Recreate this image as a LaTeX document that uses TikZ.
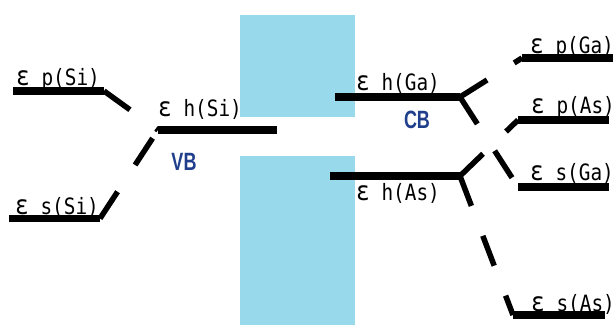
\documentclass[tikz,border=0pt]{standalone}
\usepackage{fontspec}
\newfontfamily\lblfont{DejaVu Sans Mono}[FakeStretch=0.86]
\newfontfamily\bandfont{Liberation Sans}[FakeStretch=0.72]
\newcommand\myeps{{\fontsize{26.5}{24}\selectfont ε}}
\definecolor{bandblue}{HTML}{99D9EC}
\definecolor{labelblue}{HTML}{1F3E8C}
\tikzset{
  level/.style={line width=7.5pt},
  link/.style={line width=5.5pt, dash pattern=on 32pt off 32pt},
  lbl/.style={inner sep=0pt, anchor=base west, font=\lblfont\fontsize{22.5}{24}\selectfont},
  bandlbl/.style={inner sep=0pt, text=labelblue, font=\bandfont\bfseries\fontsize{25}{28}\selectfont},
  gap/.style={fill=bandblue, draw=none}
}
\begin{document}
\begin{tikzpicture}[x=1pt,y=-1pt]
\useasboundingbox (0,0) rectangle (614,325);
% band gap rectangles
\path[gap] (240,15) rectangle (355,117);
\path[gap] (240,156) rectangle (355,325);
% level end points
\coordinate (epSiL) at (13,91);   \coordinate (epSiR) at (104,91);
\coordinate (ehSiL) at (158,130); \coordinate (ehSiR) at (277,130);
\coordinate (esSiL) at (9,218.5); \coordinate (esSiR) at (100,218.5);
\coordinate (ehGaL) at (335,97);  \coordinate (ehGaR) at (460,97);
\coordinate (ehAsL) at (330,176); \coordinate (ehAsR) at (460,176);
\coordinate (epGaL) at (522,58);  \coordinate (epGaR) at (613,58);
\coordinate (epAsL) at (518,120); \coordinate (epAsR) at (609,120);
\coordinate (esGaL) at (518,187); \coordinate (esGaR) at (609,187);
\coordinate (esAsL) at (513,315); \coordinate (esAsR) at (605,315);
% levels
\draw[level] (epSiL) -- (epSiR);
\draw[level] (ehSiL) -- (ehSiR);
\draw[level] (esSiL) -- (esSiR);
\draw[level] (ehGaL) -- (ehGaR);
\draw[level] (ehAsL) -- (ehAsR);
\draw[level] (epGaL) -- (epGaR);
\draw[level] (epAsL) -- (epAsR);
\draw[level] (esGaL) -- (esGaR);
\draw[level] (esAsL) -- (esAsR);
% links
\draw[link] (epSiR) -- (ehSiL);
\draw[link] (esSiR) -- (ehSiL);
\draw[link] (ehGaR) -- (epGaL);
\draw[link] (ehGaR) -- (esGaL);
\draw[link] (ehAsR) -- (epAsL);
\draw[link] (ehAsR) -- (esAsL);
% labels
\node[lbl] (lepSi) at (16,85) {\myeps{} p(Si)};
\node[lbl] (lehSi) at (158,116) {\myeps{} h(Si)};
\node[lbl] (lesSi) at (15,214) {\myeps{} s(Si)};
\node[lbl] (lehGa) at (356,90.5) {\myeps{} h(Ga)};
\node[lbl] (lehAs) at (356,200) {\myeps{} h(As)};
\node[lbl] (lepGa) at (530,53) {\myeps{} p(Ga)};
\node[lbl] (lepAs) at (531,113) {\myeps{} p(As)};
\node[lbl] (lesGa) at (530,180) {\myeps{} s(Ga)};
\node[lbl] (lesAs) at (531,311) {\myeps{} s(As)};
\node[bandlbl] (vb) at (184,161.5) {VB};
\node[bandlbl] (cb) at (417,119.5) {CB};
\end{tikzpicture}
\end{document}
